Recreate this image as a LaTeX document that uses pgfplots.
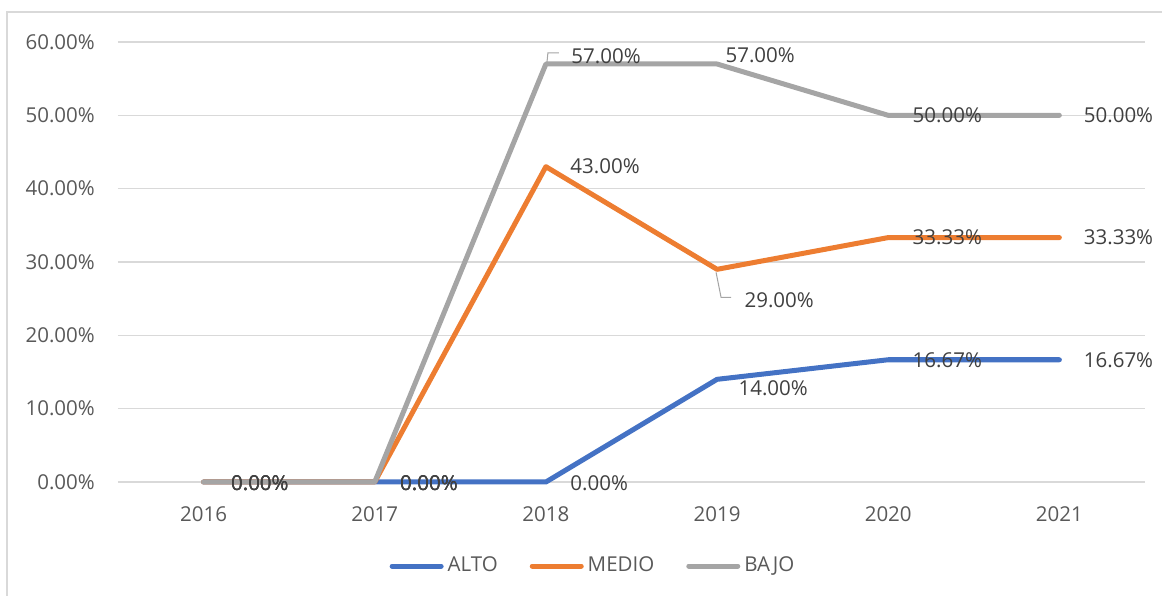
\documentclass[border=0pt]{standalone}
\usepackage{fontspec}
\setmainfont{Open Sans}
\usepackage{pgfplots}
\pgfplotsset{compat=1.18}
\definecolor{cAlto}{HTML}{4472C4}
\definecolor{cMedio}{HTML}{ED7D31}
\definecolor{cBajo}{HTML}{A5A5A5}
\definecolor{gridc}{HTML}{D9D9D9}
\definecolor{ticktext}{HTML}{595959}
\definecolor{labtext}{HTML}{404040}
\begin{document}
\fontsize{20.5pt}{24pt}\selectfont
\begin{tikzpicture}
\useasboundingbox (0,0) rectangle (1162pt,596pt);
\draw[gridc, line width=1.5pt] (7pt,-30pt) rectangle (1200pt,584pt);
\begin{axis}[
  at={(118pt,114pt)}, anchor=south west,
  scale only axis, width=1027pt, height=440pt,
  xmin=-0.5, xmax=5.5, ymin=0, ymax=60,
  xtick={0,1,2,3,4,5},
  xticklabels={2016,2017,2018,2019,2020,2021},
  ytick={0,10,20,30,40,50,60},
  yticklabels={0.00\%,10.00\%,20.00\%,30.00\%,40.00\%,50.00\%,60.00\%},
  ymajorgrids,
  major grid style={gridc, line width=1.3pt},
  axis line style={draw=none},
  major tick length=0pt,
  tick style={draw=none},
  xticklabel style={anchor=north, inner sep=0pt, yshift=-24pt, text=ticktext},
  yticklabel style={anchor=east, inner sep=0pt, xshift=-23pt, text=ticktext},
  clip=false,
  every axis plot/.append style={line width=5pt, line join=round, line cap=round, mark=none},
  point meta=y,
  visualization depends on={\thisrow{dx} \as \dx},
  visualization depends on={\thisrow{dy} \as \dy},
  nodes near coords={\pgfmathprintnumber[fixed,fixed zerofill,precision=2,assume math mode=true]{\pgfplotspointmeta}\%},
  nodes near coords style={anchor=west, inner sep=0pt, text=labtext, xshift=\dx pt, yshift=\dy pt},
  legend image code/.code={\draw[#1, line width=5pt, line cap=round] (2.5pt,0pt) -- (51.5pt,0pt);},
  legend style={at={(axis description cs:0.4615,-0.191)}, anchor=center, draw=none, fill=none,
    legend columns=3, text=ticktext,
    nodes={inner sep=0pt},
    /tikz/every even column/.style={column sep=32pt},
    /tikz/every odd column/.style={column sep=4pt}},
  legend cell align=left,
]
\addplot[cAlto] table[x=x,y=y] {
x y dx dy
0 0 25 -1
1 0 23 -1
2 0 22 -1
3 14 19 -9
4 16.67 22 0
5 16.67 22 0
};
\addlegendentry{ALTO}
\addplot[cMedio] table[x=x,y=y] {
x y dx dy
0 0 25 -1
1 0 23 -1
2 43 22 0
3 29 25 -31
4 33.33 22 0
5 33.33 22 0
};
\addlegendentry{MEDIO}
\addplot[cBajo] table[x=x,y=y] {
x y dx dy
0 0 25 -1
1 0 23 -1
2 57 23 8
3 57 6 9
4 50 22 0
5 50 22 0
};
\addlegendentry{BAJO}
\draw[cBajo, line width=1pt] (axis cs:2,57) ++(1pt,1pt) -- ++(1pt,10pt) -- ++(11pt,0pt);
\draw[cBajo, line width=1pt] (axis cs:3,29) ++(-1pt,-3pt) -- ++(5pt,-25pt) -- ++(10pt,0pt);
\end{axis}
\end{tikzpicture}
\end{document}
